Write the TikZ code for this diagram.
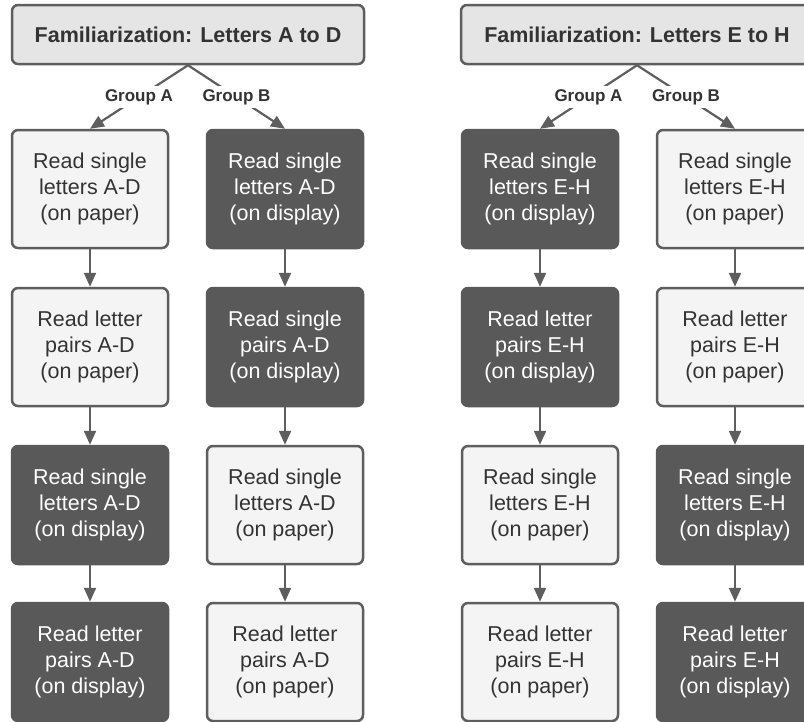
\documentclass[tikz,border=0pt]{standalone}
\usepackage{fontspec}
\setmainfont{Liberation Sans}
\usetikzlibrary{arrows.meta}
\definecolor{ink}{HTML}{333333}
\definecolor{edge}{HTML}{5E5E5E}
\definecolor{paper}{HTML}{F4F4F4}
\definecolor{screen}{HTML}{595959}
\definecolor{head}{HTML}{E5E5E5}

\begin{document}
\begin{tikzpicture}[x=1pt, y=-1pt,
  box/.style={rectangle, rounded corners=6pt, line width=2.5pt, minimum width=156pt, minimum height=118pt, inner sep=0pt, align=center, font=\fontsize{21.5}{26}\selectfont},
  paperbox/.style={box, draw=edge, fill=paper, text=ink},
  screenbox/.style={box, draw=screen, fill=screen, text=white},
  headbox/.style={rectangle, rounded corners=6pt, line width=2.5pt, draw=edge, fill=head, text=ink, minimum width=352pt, minimum height=59pt, font=\bfseries\fontsize{21.5}{26}\selectfont},
  flow/.style={-{Triangle[length=14pt,width=12pt]}, edge, line width=2.2pt},
  grp/.style={fill=white, text=ink, inner sep=3pt, font=\bfseries\fontsize{17}{20}\selectfont}]
  \clip (0,0) rectangle (804,721);
  \fill[white] (0,0) rectangle (804,721);
  \node[headbox] (hdl) at (188,34.5) {Familiarization: Letters A to D};
  \node[headbox] (hdr) at (637,34.5) {Familiarization: Letters E to H};
  \foreach \n/\x/\y/\s/\t in {
    la1/90/189/paperbox/{Read single\\letters A-D\\(on paper)},
    la2/90/347/paperbox/{Read letter\\pairs A-D\\(on paper)},
    la3/90/505/screenbox/{Read single\\letters A-D\\(on display)},
    la4/90/662/screenbox/{Read letter\\pairs A-D\\(on display)},
    lb1/285/189/screenbox/{Read single\\letters A-D\\(on display)},
    lb2/285/347/screenbox/{Read single\\pairs A-D\\(on display)},
    lb3/285/505/paperbox/{Read single\\letters A-D\\(on paper)},
    lb4/285/662/paperbox/{Read letter\\pairs A-D\\(on paper)},
    ra1/540/189/screenbox/{Read single\\letters E-H\\(on display)},
    ra2/540/347/screenbox/{Read letter\\pairs E-H\\(on display)},
    ra3/540/505/paperbox/{Read single\\letters E-H\\(on paper)},
    ra4/540/662/paperbox/{Read letter\\pairs E-H\\(on paper)},
    rb1/735/189/paperbox/{Read single\\letters E-H\\(on paper)},
    rb2/735/347/paperbox/{Read letter\\pairs E-H\\(on paper)},
    rb3/735/505/screenbox/{Read single\\letters E-H\\(on display)},
    rb4/735/662/screenbox/{Read letter\\pairs E-H\\(on display)}}
    \node[\s] (\n) at (\x,\y) {\t};
  \foreach \c in {la,lb,ra,rb}
    \foreach \i/\j in {1/2,2/3,3/4}
      \draw[flow] (\c\i) -- (\c\j);
  \draw[flow] (hdl.south) -- node[grp] {Group A} (la1.north);
  \draw[flow] (hdl.south) -- node[grp] {Group B} (lb1.north);
  \draw[flow] (hdr.south) -- node[grp] {Group A} (ra1.north);
  \draw[flow] (hdr.south) -- node[grp] {Group B} (rb1.north);
\end{tikzpicture}
\end{document}
